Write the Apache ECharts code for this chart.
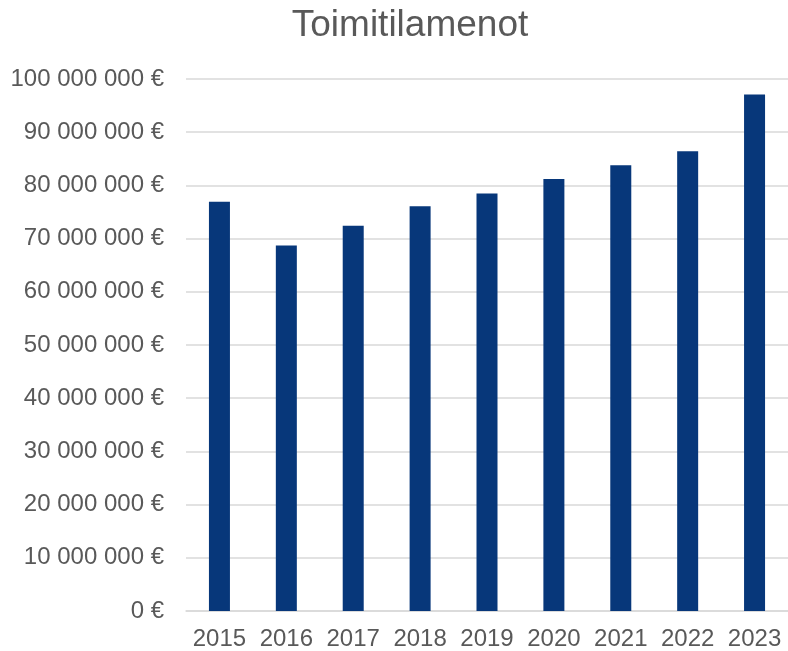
<!DOCTYPE html>
<html><head><meta charset="utf-8">
<script src="https://cdn.jsdelivr.net/npm/echarts@6/dist/echarts.min.js"></script>
<style>html,body{margin:0;padding:0;background:#fff}#c{width:788px;height:651px}</style>
</head><body><div id="c"></div>
<script>
const title = "Toimitilamenot";
const years = ["2015","2016","2017","2018","2019","2020","2021","2022","2023"];
const values = [76950000, 68700000, 72400000, 76100000, 78500000, 81200000, 83800000, 86400000, 97100000];

function fmt(v){
  return String(v).replace(/\B(?=(\d{3})+(?!\d))/g, " ") + " €";
}
const chart = echarts.init(document.getElementById('c'));
chart.setOption({
  animation:false,
  title:{text:title,left:405,textAlign:'center',top:2,textStyle:{fontFamily:'Liberation Sans',fontSize:37,fontWeight:'normal',color:'#595959'}},
  grid:{left:186,right:-4,top:79,bottom:39.3,containLabel:false},
  xAxis:{type:'category',data:years,
    axisLine:{lineStyle:{color:'#d9d9d9',width:1.5}},axisTick:{show:false},
    axisLabel:{interval:0,hideOverlap:false,fontFamily:'Liberation Sans',fontSize:24,color:'#595959',margin:16}},
  yAxis:{type:'value',min:0,max:100000000,interval:10000000,
    axisLine:{show:false},axisTick:{show:false},
    splitLine:{lineStyle:{color:'#d9d9d9',width:1.5}},
    axisLabel:{fontFamily:'Liberation Sans',fontSize:24,color:'#595959',margin:22,formatter:fmt}},
  series:[{type:'bar',data:values,barWidth:21,itemStyle:{color:'#07377a'}}]
});
</script></body></html>
